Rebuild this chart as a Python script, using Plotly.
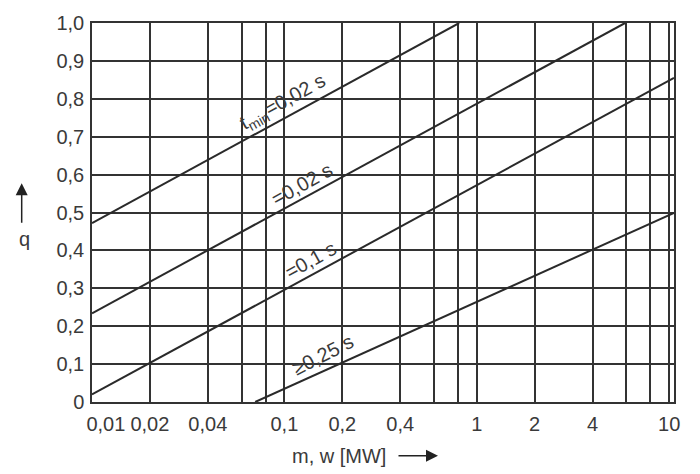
import plotly.graph_objects as go
import math

# ---- data ----
x_grid = [0.01, 0.02, 0.04, 0.06, 0.08, 0.1, 0.2, 0.4, 0.6, 0.8, 1, 2, 4, 6, 8, 10]
x_ticktext = ["\u2007\u2007\u20080,01", "0,02", "0,04", "", "", "0,1", "0,2", "0,4", "", "",
              "1", "2", "4", "", "", "10"]
y_ticks = [0, 0.1, 0.2, 0.3, 0.4, 0.5, 0.6, 0.7, 0.8, 0.9, 1.0]
y_ticktext = ["0", "0,1", "0,2", "0,3", "0,4", "0,5", "0,6", "0,7", "0,8", "0,9", "1,0"]

# curves (m, w [MW] vs q)
line1_x = [0.01, 0.81]
line1_q = [0.472, 1.0]
line2_x = [0.01, 5.9]
line2_q = [0.234, 1.0]
line3_x = [0.01, 10.6]
line3_q = [0.02, 0.855]
line4_x = [0.0705, 10.6]
line4_q = [0.0, 0.499]

labels = ["t<sub>min</sub>=0,02 s", "=0,02 s", "=0,1 s", "≥0,25 s"]
label_x = [0.0987, 0.124, 0.1365, 0.157]
label_q = [0.79, 0.574, 0.375, 0.125]
label_angle = [-29, -29, -29, -27]

x_range = [0.01, 10.6]

FONT = "Liberation Sans, Arial, Helvetica, sans-serif"
TXT = "#3a3a3a"
LINE = "#2a2a2a"
GRID = "#333333"
FS = 20

fig = go.Figure()
for xs, qs in [(line1_x, line1_q), (line2_x, line2_q), (line3_x, line3_q), (line4_x, line4_q)]:
    fig.add_trace(go.Scatter(x=xs, y=qs, mode="lines",
                             line=dict(color=LINE, width=2), showlegend=False,
                             hoverinfo="skip"))

for t, lx, lq, a in zip(labels, label_x, label_q, label_angle):
    fig.add_annotation(x=math.log10(lx), y=lq, xref="x", yref="y", text=t,
                       textangle=a, showarrow=False,
                       font=dict(family=FONT, size=FS, color=TXT),
                       xanchor="center", yanchor="middle")

# axis titles with arrows
fig.add_annotation(x=-0.1168, y=0.43, xref="paper", yref="paper", text="q",
                   showarrow=False, xanchor="center", yanchor="middle",
                   font=dict(family=FONT, size=FS, color=TXT))
fig.add_annotation(x=-0.1208, y=0.5774, xref="paper", yref="paper", text="",
                   showarrow=True, ax=0, ay=41, arrowhead=2, arrowsize=1.6,
                   arrowwidth=1.5, arrowcolor="#222222", standoff=0)
fig.add_annotation(x=0.425, y=-0.1417, xref="paper", yref="paper", text="m, w [MW]",
                   showarrow=False, xanchor="center", yanchor="middle",
                   font=dict(family=FONT, size=FS, color=TXT))
fig.add_annotation(x=0.5945, y=-0.1417, xref="paper", yref="paper", text="",
                   showarrow=True, ax=-41, ay=0, arrowhead=2, arrowsize=1.6,
                   arrowwidth=1.5, arrowcolor="#222222", standoff=0)

fig.update_xaxes(type="log", range=[math.log10(x_range[0]), math.log10(x_range[1])],
                 tickvals=x_grid, ticktext=x_ticktext, ticks="", ticklabelstandoff=3,
                 showgrid=True, gridcolor=GRID, gridwidth=1.5,
                 showline=True, linecolor=GRID, linewidth=1.5, mirror=True,
                 zeroline=False, tickfont=dict(family=FONT, size=FS, color=TXT))
fig.update_yaxes(range=[0, 1], tickvals=y_ticks, ticktext=y_ticktext, ticks="",
                 ticklabelstandoff=2,
                 showgrid=True, gridcolor=GRID, gridwidth=1.5,
                 showline=True, linecolor=GRID, linewidth=1.5, mirror=True,
                 zeroline=False, tickfont=dict(family=FONT, size=FS, color=TXT))

fig.update_layout(width=700, height=474, margin=dict(l=92, r=26, t=21, b=72),
                  plot_bgcolor="white", paper_bgcolor="white")

fig.write_html("out.html")
